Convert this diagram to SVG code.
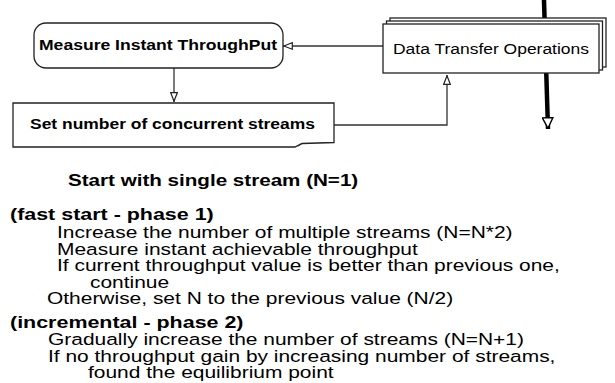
<svg xmlns="http://www.w3.org/2000/svg" width="615" height="383" viewBox="0 0 615 383">
<style>
.box{fill:#fff;stroke:#222;stroke-width:1.3}
.ln{fill:none;stroke:#333;stroke-width:1.3}
.t{font-family:"Liberation Sans",Arial,sans-serif;fill:#000}
.b{font-weight:bold}
</style>
<defs>
<marker id="ah" viewBox="0 0 10 8" refX="10" refY="4" markerWidth="10" markerHeight="8" markerUnits="userSpaceOnUse" orient="auto">
<path d="M0.7,0.7 L9.3,4 L0.7,7.3 Z" fill="#fff" stroke="#222" stroke-width="1.2"/>
</marker>
<marker id="ahb" viewBox="0 0 12 12" refX="12" refY="6" markerWidth="12" markerHeight="12" markerUnits="userSpaceOnUse" orient="auto">
<path d="M0.7,0.7 L11.3,6 L0.7,11.3 Z" fill="#fff" stroke="#000" stroke-width="1.4"/>
</marker>
</defs>
<g id="connectors">
<line x1="544" y1="0" x2="548" y2="129" stroke="#000" stroke-width="4.5" marker-end="url(#ahb)"/>
<path class="ln" d="M383,46 H283" marker-end="url(#ah)"/>
<path class="ln" d="M174,68 V102" marker-end="url(#ah)"/>
<path class="ln" d="M334,125 H447 V75" marker-end="url(#ah)"/>
</g>
<g id="measure">
<rect class="box" x="34" y="23" width="249" height="45" rx="12"/>
<text class="t b" x="39" y="50" font-size="14" textLength="238" lengthAdjust="spacingAndGlyphs">Measure Instant ThroughPut</text>
</g>
<g id="setstreams">
<path class="box" d="M13,103 H334 V142.5 L302,143.5 L295,147 H13 Z"/>
<path class="ln" d="M302,143.5 L298,146"/>
<text class="t b" x="30" y="129" font-size="14" textLength="285" lengthAdjust="spacingAndGlyphs">Set number of concurrent streams</text>
</g>
<g id="datatransfer">
<rect class="box" x="390" y="18" width="216" height="49"/>
<rect class="box" x="386.5" y="21" width="216" height="49"/>
<rect class="box" x="383" y="24" width="216" height="49"/>
<text class="t" x="393" y="54" font-size="14" textLength="196" lengthAdjust="spacingAndGlyphs">Data Transfer Operations</text>
</g>
<g id="description" class="t" font-size="16.5">
<text class="b" transform="translate(68,186) scale(1.25,1)">Start with single stream (N=1)</text>
<text class="b" transform="translate(10,220) scale(1.3,1)">(fast start - phase 1)</text>
<text transform="translate(57,238) scale(1.27,1)">Increase the number of multiple streams (N=N*2)</text>
<text transform="translate(57,254.5) scale(1.27,1)">Measure instant achievable throughput</text>
<text transform="translate(57,271) scale(1.27,1)">If current throughput value is better than previous one,</text>
<text transform="translate(90,287.5) scale(1.27,1)">continue</text>
<text transform="translate(47,304) scale(1.27,1)">Otherwise, set N to the previous value (N/2)</text>
<text class="b" transform="translate(10,328) scale(1.3,1)">(incremental - phase 2)</text>
<text transform="translate(48,345) scale(1.27,1)">Gradually increase the number of streams (N=N+1)</text>
<text transform="translate(48,361.5) scale(1.27,1)">If no throughput gain by increasing number of streams,</text>
<text transform="translate(88,378) scale(1.27,1)">found the equilibrium point</text>
</g>
</svg>
